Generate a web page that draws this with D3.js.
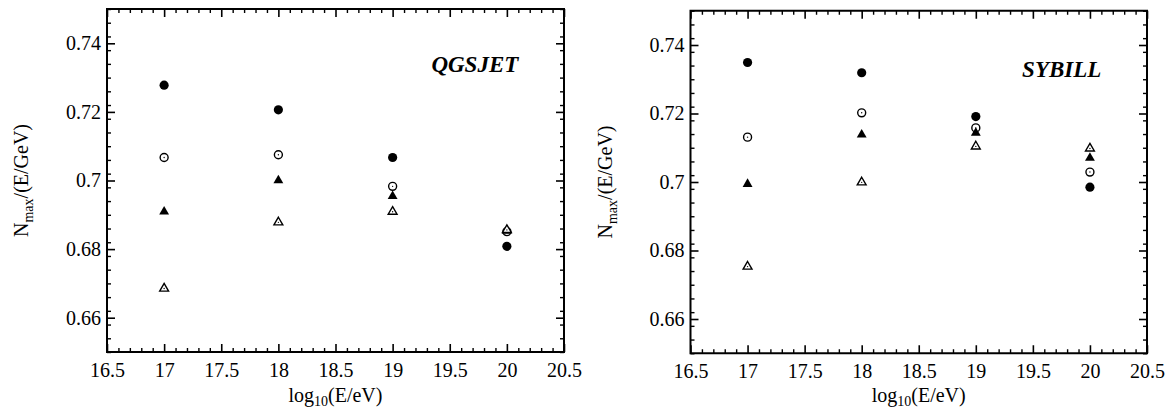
<!DOCTYPE html>
<html>
<head>
<meta charset="utf-8">
<script src="https://cdn.jsdelivr.net/npm/d3@7"></script>
<style>
  html, body { margin: 0; padding: 0; background: #fff; }
  svg { display: block; }
  svg text { font-family: "Liberation Serif", "Times New Roman", Times, serif !important; fill: #000; }
</style>
</head>
<body>
<svg id="chart" width="1165" height="412"></svg>
<script>
// Shower energies, log10(E/eV)
const energies = [17, 18, 19, 20];

// QGSJET: Nmax/(E/GeV) per marker series
const qgsFilledCircle   = [0.7278, 0.7206, 0.7067, 0.6808];
const qgsOpenCircle     = [0.7067, 0.7075, 0.6983, 0.6851];
const qgsFilledTriangle = [0.6909, 0.7000, 0.6954, 0.6853];
const qgsOpenTriangle   = [0.6685, 0.6878, 0.6909, 0.6856];

// SYBILL: Nmax/(E/GeV) per marker series
const sybFilledCircle   = [0.7349, 0.7319, 0.7191, 0.6985];
const sybOpenCircle     = [0.7131, 0.7202, 0.7158, 0.7029];
const sybFilledTriangle = [0.6994, 0.7138, 0.7143, 0.7070];
const sybOpenTriangle   = [0.6753, 0.6999, 0.7104, 0.7098];

// Axis ticks
const xMajorTicks = [16.5, 17, 17.5, 18, 18.5, 19, 19.5, 20, 20.5];
const yMajorTicks = [0.66, 0.68, 0.70, 0.72, 0.74];
const xDomain = [16.5, 20.5];
const yDomain = [0.65, 0.75];

const svg = d3.select("#chart");

function range(a, b, step) {
  const out = [];
  const n = Math.round((b - a) / step);
  for (let i = 0; i <= n; i++) out.push(+(a + i * step).toFixed(4));
  return out;
}
const xMinorTicks = range(16.5, 20.5, 0.1).filter(v => !xMajorTicks.some(m => Math.abs(m - v) < 1e-6));
const yMinorTicks = range(0.65, 0.75, 0.004).filter(v => !yMajorTicks.some(m => Math.abs(m - v) < 1e-6));

const fmt = d => d3.format("~g")(d);

function drawPanel(cfg) {
  const x = d3.scaleLinear().domain(xDomain).range([cfg.left, cfg.right]);
  const y = d3.scaleLinear().domain(yDomain).range([cfg.bottom, cfg.top]);
  const g = svg.append("g");
  const w = cfg.right - cfg.left, h = cfg.bottom - cfg.top;

  // ticks on all four sides, pointing inward
  const sides = [
    { make: d3.axisBottom, sc: x, tr: `translate(0,${cfg.bottom})`, labels: true,  minor: xMinorTicks, major: xMajorTicks, pad: 11 },
    { make: d3.axisTop,    sc: x, tr: `translate(0,${cfg.top})`,    labels: false, minor: xMinorTicks, major: xMajorTicks, pad: 0 },
    { make: d3.axisLeft,   sc: y, tr: `translate(${cfg.left},0)`,   labels: true,  minor: yMinorTicks, major: yMajorTicks, pad: 6 },
    { make: d3.axisRight,  sc: y, tr: `translate(${cfg.right},0)`,  labels: false, minor: yMinorTicks, major: yMajorTicks, pad: 0 }
  ];
  sides.forEach(a => {
    g.append("g").attr("transform", a.tr)
      .call(a.make(a.sc).tickValues(a.minor).tickSize(-4).tickFormat(""))
      .call(s => s.select(".domain").remove())
      .call(s => s.selectAll("line").attr("stroke", "#000").attr("stroke-width", 1.4));
    g.append("g").attr("transform", a.tr)
      .call(a.make(a.sc).tickValues(a.major).tickSize(-8).tickPadding(a.pad).tickFormat(a.labels ? fmt : ""))
      .call(s => s.select(".domain").remove())
      .call(s => s.selectAll("line").attr("stroke", "#000").attr("stroke-width", 1.6))
      .call(s => s.selectAll("text").attr("font-size", 20));
  });

  // frame
  g.append("rect")
    .attr("x", cfg.left).attr("y", cfg.top).attr("width", w).attr("height", h)
    .attr("fill", "none").attr("stroke", "#000").attr("stroke-width", 2);

  // markers
  const circle = d3.symbol().type(d3.symbolCircle);
  const tri = d3.symbol().type(d3.symbolTriangle);
  const series = [
    { vals: cfg.filledCircle,   path: circle.size(66)(), fill: "#000", stroke: "none", dot: false },
    { vals: cfg.openCircle,     path: circle.size(50)(), fill: "#fff", stroke: "#000", dot: true },
    { vals: cfg.filledTriangle, path: tri.size(42)(),    fill: "#000", stroke: "none", dot: false },
    { vals: cfg.openTriangle,   path: tri.size(34)(),    fill: "#fff", stroke: "#000", dot: true }
  ];
  series.forEach(s => {
    const pts = energies.map((e, i) => ({ e, v: s.vals[i] }));
    const mg = g.append("g");
    mg.selectAll("path").data(pts).join("path")
      .attr("d", s.path)
      .attr("transform", d => `translate(${x(d.e)},${y(d.v)})`)
      .attr("fill", s.fill)
      .attr("stroke", s.stroke)
      .attr("stroke-width", 1.4);
    if (s.dot) {
      mg.selectAll("circle").data(pts).join("circle")
        .attr("cx", d => x(d.e)).attr("cy", d => y(d.v)).attr("r", 0.7).attr("fill", "#000");
    }
  });

  // model label
  g.append("text")
    .attr("x", x(20.1)).attr("y", y(cfg.labelY))
    .attr("text-anchor", "end")
    .attr("font-size", 23).attr("font-weight", "bold").attr("font-style", "italic")
    .text(cfg.model);

  // y axis title
  const yt = g.append("text")
    .attr("transform", `translate(${cfg.left - 79},${(cfg.top + cfg.bottom) / 2}) rotate(-90)`)
    .attr("text-anchor", "middle").attr("font-size", 20);
  yt.append("tspan").text("N");
  yt.append("tspan").attr("font-size", 14).attr("dy", 5).text("max");
  yt.append("tspan").attr("dy", -5).text("/(E/GeV)");

  // x axis title
  const xt = g.append("text")
    .attr("x", (cfg.left + cfg.right) / 2).attr("y", 402)
    .attr("text-anchor", "middle").attr("font-size", 20);
  xt.append("tspan").text("log");
  xt.append("tspan").attr("font-size", 14).attr("dy", 4).text("10");
  xt.append("tspan").attr("dy", -4).text("(E/eV)");
}

drawPanel({
  left: 107, right: 564, top: 9, bottom: 352,
  model: "QGSJET", labelY: 0.7316,
  filledCircle: qgsFilledCircle, openCircle: qgsOpenCircle,
  filledTriangle: qgsFilledTriangle, openTriangle: qgsOpenTriangle
});

drawPanel({
  left: 690.5, right: 1147, top: 10.75, bottom: 353.25,
  model: "SYBILL", labelY: 0.7307,
  filledCircle: sybFilledCircle, openCircle: sybOpenCircle,
  filledTriangle: sybFilledTriangle, openTriangle: sybOpenTriangle
});
</script>
</body>
</html>
